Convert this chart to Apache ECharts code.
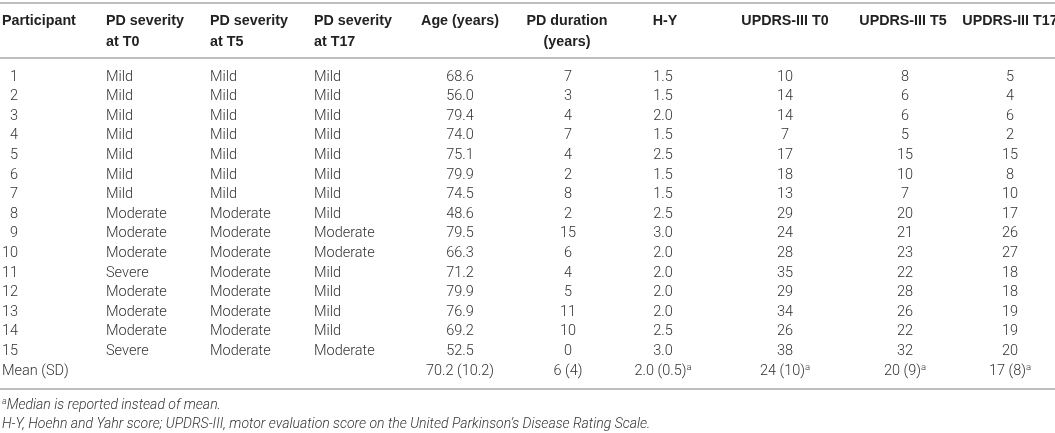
<!DOCTYPE html>
<html>
<head>
<meta charset="utf-8">
<script src="https://cdn.jsdelivr.net/npm/echarts@6/dist/echarts.min.js"></script>
<style>
  html, body { margin: 0; padding: 0; background: #fff; }
  #chart { width: 1055px; height: 433px; }
</style>
</head>
<body>
<div id="chart"></div>
<script>
// ---- Data ----
const participants = ['1','2','3','4','5','6','7','8','9','10','11','12','13','14','15'];
const severityT0  = ['Mild','Mild','Mild','Mild','Mild','Mild','Mild','Moderate','Moderate','Moderate','Severe','Moderate','Moderate','Moderate','Severe'];
const severityT5  = ['Mild','Mild','Mild','Mild','Mild','Mild','Mild','Moderate','Moderate','Moderate','Moderate','Moderate','Moderate','Moderate','Moderate'];
const severityT17 = ['Mild','Mild','Mild','Mild','Mild','Mild','Mild','Mild','Moderate','Moderate','Mild','Mild','Mild','Mild','Moderate'];
const ageYears    = ['68.6','56.0','79.4','74.0','75.1','79.9','74.5','48.6','79.5','66.3','71.2','79.9','76.9','69.2','52.5'];
const pdDuration  = ['7','3','4','7','4','2','8','2','15','6','4','5','11','10','0'];
const hoehnYahr   = ['1.5','1.5','2.0','1.5','2.5','1.5','1.5','2.5','3.0','2.0','2.0','2.0','2.0','2.5','3.0'];
const updrsT0     = ['10','14','14','7','17','18','13','29','24','28','35','29','34','26','38'];
const updrsT5     = ['8','6','6','5','15','10','7','20','21','23','22','28','26','22','32'];
const updrsT17    = ['5','4','6','2','15','8','10','17','26','27','18','18','19','19','20'];

const summaryLabel = 'Mean (SD)';
// summary row: [text, superscript]
const summaryRow = [
  ['', ''], ['', ''], ['', ''], ['', ''],
  ['70.2 (10.2)', ''], ['6 (4)', ''], ['2.0 (0.5)', 'a'],
  ['24 (10)', 'a'], ['20 (9)', 'a'], ['17 (8)', 'a']
];

const headers = [
  ['Participant'],
  ['PD severity', 'at T0'],
  ['PD severity', 'at T5'],
  ['PD severity', 'at T17'],
  ['Age (years)'],
  ['PD duration', '(years)'],
  ['H-Y'],
  ['UPDRS-III T0'],
  ['UPDRS-III T5'],
  ['UPDRS-III T17']
];

const footnoteMark = 'a';
const footnote1 = 'Median is reported instead of mean.';
const footnote2 = 'H-Y, Hoehn and Yahr score; UPDRS-III, motor evaluation score on the United Parkinson\u2019s Disease Rating Scale.';

const columns = [participants, severityT0, severityT5, severityT17, ageYears, pdDuration, hoehnYahr, updrsT0, updrsT5, updrsT17];

// ---- Layout / style (not data) ----
const layout = [
  { x: 18,   align: 'right',  hx: 2,    halign: 'left' },
  { x: 106,  align: 'left',   hx: 106,  halign: 'left' },
  { x: 210,  align: 'left',   hx: 210,  halign: 'left' },
  { x: 314,  align: 'left',   hx: 314,  halign: 'left' },
  { x: 460,  align: 'center', hx: 460,  halign: 'center' },
  { x: 568,  align: 'center', hx: 567,  halign: 'center' },
  { x: 663,  align: 'center', hx: 665,  halign: 'center' },
  { x: 785,  align: 'center', hx: 785,  halign: 'center' },
  { x: 905,  align: 'center', hx: 903,  halign: 'center' },
  { x: 1010, align: 'center', hx: 1010, halign: 'center' }
];
const summaryX = 2;
const LIGHT = 'Roboto, "Liberation Sans", Arial, sans-serif';
const BODY_FONT = '300 14.5px ' + LIGHT;
const BODY_COLOR = '#333';
const HEAD_FONT = 'bold 14.3px "Liberation Sans", Arial, sans-serif';
const RULE_COLOR = '#a8a8a8';
const rules = [3, 58, 389];
const ROW_TOP = 67.2, ROW_H = 19.6;

const rowLabels = participants.concat([summaryLabel]);
const nRows = rowLabels.length;

const chart = echarts.init(document.getElementById('chart'), null, { renderer: 'canvas' });

const series = columns.map(function (col, ci) {
  const data = rowLabels.map(function (_, ri) { return [layout[ci].x, ri]; });
  return {
    type: 'custom',
    coordinateSystem: 'cartesian2d',
    silent: true,
    data: data,
    renderItem: function (params, api) {
      const ri = params.dataIndex;
      const p = api.coord([api.value(0), ri]);
      let text, sup = '', align = layout[ci].align, x = p[0];
      if (ri < participants.length) {
        text = col[ri];
      } else {
        if (ci === 0) { text = summaryLabel; align = 'left'; x = api.coord([summaryX, ri])[0]; }
        else { text = summaryRow[ci][0]; sup = summaryRow[ci][1]; }
      }
      if (!text) return null;
      const rich = sup ? '{m|' + text + '}{s|' + sup + '}' : '{m|' + text + '}';
      return {
        type: 'text',
        x: x, y: p[1],
        style: {
          text: rich,
          align: align,
          verticalAlign: 'middle',
          rich: {
            m: { font: BODY_FONT, fill: BODY_COLOR, lineHeight: 17 },
            s: { font: '300 9.5px ' + LIGHT, fill: BODY_COLOR, lineHeight: 17, padding: [0, 0, 7, 0] }
          }
        }
      };
    }
  };
});

const graphics = [];
rules.forEach(function (y) {
  graphics.push({ type: 'line', silent: true, shape: { x1: 0, y1: y, x2: 1055, y2: y }, style: { stroke: RULE_COLOR, lineWidth: 1.6 } });
});
headers.forEach(function (h, ci) {
  graphics.push({
    type: 'text', silent: true, x: layout[ci].hx, y: 10.5,
    style: {
      text: h.join('\n'), font: HEAD_FONT, fill: '#222',
      textAlign: layout[ci].halign, align: layout[ci].halign,
      textVerticalAlign: 'top', verticalAlign: 'top', lineHeight: 21
    }
  });
});
const FOOT_FONT = 'italic 300 14px ' + LIGHT;
graphics.push({
  type: 'text', silent: true, x: 2, y: 405,
  style: {
    text: '{s|' + footnoteMark + '}{t|' + footnote1 + '}',
    verticalAlign: 'middle', textVerticalAlign: 'middle',
    rich: {
      t: { font: FOOT_FONT, fill: BODY_COLOR, lineHeight: 17 },
      s: { font: 'italic 300 9px ' + LIGHT, fill: BODY_COLOR, lineHeight: 17, padding: [0, 0, 7, 0] }
    }
  }
});
graphics.push({
  type: 'text', silent: true, x: 2, y: 424,
  style: {
    text: footnote2, font: FOOT_FONT, fill: BODY_COLOR,
    verticalAlign: 'middle', textVerticalAlign: 'middle'
  }
});

chart.setOption({
  animation: false,
  backgroundColor: '#fff',
  grid: { left: 0, right: 0, top: ROW_TOP, height: ROW_H * nRows, containLabel: false },
  xAxis: { type: 'value', min: 0, max: 1055, show: false },
  yAxis: { type: 'category', data: rowLabels, inverse: true, show: false },
  series: series,
  graphic: graphics
});
</script>
</body>
</html>
